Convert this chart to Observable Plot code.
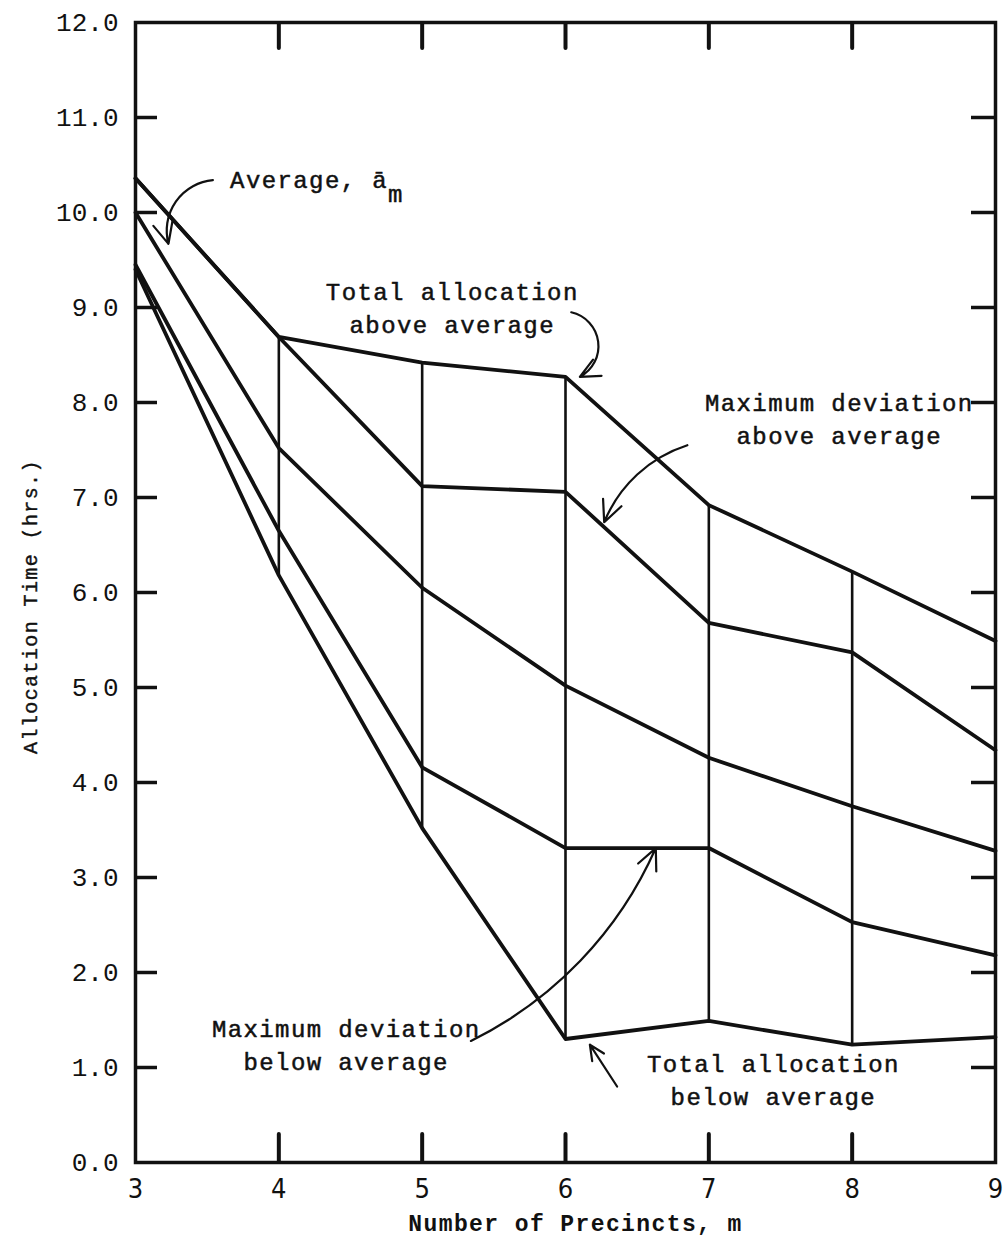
<!DOCTYPE html>
<html>
<head>
<meta charset="utf-8">
<script src="https://cdn.jsdelivr.net/npm/d3@7"></script>
<script src="https://cdn.jsdelivr.net/npm/@observablehq/plot@0.6"></script>
<style>
  html, body { margin: 0; padding: 0; background: #fff; }
  #chart svg { display: block; }
  g[aria-label="text"] text { letter-spacing: 1.4px; }
</style>
</head>
<body>
<div id="chart"></div>
<script>
// Number of precincts, m
const precincts = [3, 4, 5, 6, 7, 8, 9];
// Allocation time (hrs.) per series
const totalAbove  = [10.36, 8.69, 8.42, 8.27, 6.92, 6.22, 5.49];
const maxDevAbove = [10.36, 8.69, 7.12, 7.06, 5.68, 5.37, 4.34];
const average     = [10.00, 7.52, 6.05, 5.02, 4.26, 3.75, 3.28];
const maxDevBelow = [9.45, 6.65, 4.16, 3.31, 3.31, 2.53, 2.18];
const totalBelow  = [9.40, 6.18, 3.52, 1.30, 1.49, 1.24, 1.32];
const seriesNames = ["Total allocation above average", "Maximum deviation above average",
  "Average", "Maximum deviation below average", "Total allocation below average"];
const seriesValues = [totalAbove, maxDevAbove, average, maxDevBelow, totalBelow];

const yTicks = [0,1,2,3,4,5,6,7,8,9,10,11,12];
const xTicks = [3,4,5,6,7,8,9];
const innerXTicks = [4,5,6,7,8];

// annotation labels (data coordinates)
const labelText = ["Total allocation\nabove average", "Maximum deviation\nabove average",
  "Maximum deviation\nbelow average", "Total allocation\nbelow average"];
const labelX = [5.21, 7.91, 4.47, 7.45];
const labelY = [9.02, 7.85, 1.26, 0.89];

// leader arrows (data coordinates)
const arrowX1 = [3.54, 6.04, 6.85, 5.34, 6.36];
const arrowY1 = [10.34, 8.95, 7.55, 1.28, 0.80];
const arrowX2 = [3.23, 6.10, 6.27, 6.63, 6.17];
const arrowY2 = [9.67, 8.27, 6.74, 3.31, 1.24];
const arrowBend = [-50, 70, -25, -20, 0];

const lines = [];
seriesNames.forEach((s, i) => precincts.forEach((m, j) => lines.push({series: s, m, t: seriesValues[i][j]})));
const rules = precincts.map((m, j) => ({m, lo: totalBelow[j], hi: totalAbove[j]})).filter(d => innerXTicks.includes(d.m));
const labels = labelText.map((t, i) => ({t, x: labelX[i], y: labelY[i]}));
const arrows = arrowX1.map((x1, i) => ({x1, y1: arrowY1[i], x2: arrowX2[i], y2: arrowY2[i], bend: arrowBend[i]}));

const ink = "#111";
const mono = "Liberation Mono";

const chart = Plot.plot({
  width: 1006,
  height: 1250,
  marginLeft: 135,
  marginRight: 11,
  marginTop: 22,
  marginBottom: 88,
  x: {domain: [3, 9], label: null},
  y: {domain: [0, 12], label: null},
  marks: [
    // y tick labels
    Plot.axisY({ticks: yTicks, tickSize: 0, tickPadding: 17, tickFormat: d3.format(".1f"),
      fontFamily: mono, fontSize: 26, fill: ink}),
    // inward ticks left/right
    Plot.axisY({ticks: yTicks.slice(1, -1), tickSize: -22, tickFormat: () => "", stroke: ink, strokeWidth: 3.5}),
    Plot.axisY({anchor: "right", ticks: yTicks.slice(1, -1), tickSize: -25, tickFormat: () => "", stroke: ink, strokeWidth: 3.5}),
    // x tick labels
    Plot.axisX({ticks: xTicks, tickSize: 0, tickPadding: 16, tickFormat: d3.format("d"),
      fontFamily: "DejaVu Sans Condensed, DejaVu Sans", fontSize: 27, fill: ink}),
    Plot.axisX({ticks: innerXTicks, tickSize: -28, tickFormat: () => "", stroke: ink, strokeWidth: 4, strokeLinecap: "round"}),
    Plot.axisX({anchor: "top", ticks: innerXTicks, tickSize: -25, tickFormat: () => "", stroke: ink, strokeWidth: 4, strokeLinecap: "round"}),
    // axis titles
    Plot.text(["Allocation Time (hrs.)"], {frameAnchor: "left", rotate: -90, dx: -105, dy: 14,
      fontFamily: mono, fontSize: 20, fill: ink, stroke: ink, strokeWidth: 0.4, textAnchor: "middle"}),
    Plot.text(["Number of Precincts, m"], {frameAnchor: "bottom", dx: 10, dy: 68,
      fontFamily: mono, fontSize: 23, fontWeight: "bold", fill: ink, textAnchor: "middle"}),
    // vertical connectors
    Plot.ruleX(rules, {x: "m", y1: "lo", y2: "hi", stroke: ink, strokeWidth: 2.6}),
    // curves
    Plot.line(lines, {x: "m", y: "t", z: "series", stroke: ink, strokeWidth: 3.8, strokeLinejoin: "round"}),
    // frame
    Plot.frame({stroke: ink, strokeWidth: 3.5}),
    // annotations
    Plot.text(labels, {x: "x", y: "y", text: "t", fontFamily: mono, fontSize: 24, lineHeight: 1.38,
      fill: ink, stroke: ink, strokeWidth: 0.5, textAnchor: "middle"}),
    Plot.text(["Average, \u0101"], {x: () => 3.66, y: () => 10.34, fontFamily: mono, fontSize: 24,
      fill: ink, stroke: ink, strokeWidth: 0.5, textAnchor: "start"}),
    Plot.text(["m"], {x: () => 3.66, y: () => 10.34, dx: 158, dy: 14, fontFamily: mono, fontSize: 24,
      fill: ink, stroke: ink, strokeWidth: 0.5, textAnchor: "start"}),
    ...arrows.map(a => Plot.arrow([a], {x1: "x1", y1: "y1", x2: "x2", y2: "y2", bend: a.bend,
      stroke: ink, strokeWidth: 2.2, headLength: 16, headAngle: 50}))
  ]
});
document.getElementById("chart").appendChild(chart);
</script>
</body>
</html>
